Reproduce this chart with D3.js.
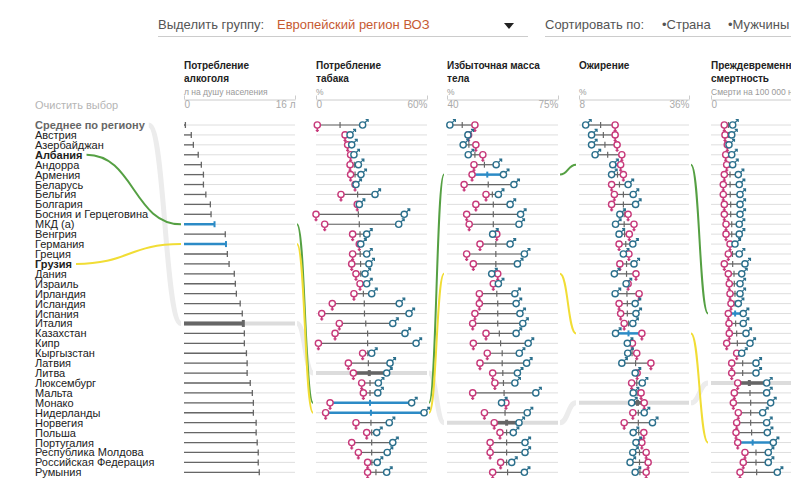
<!DOCTYPE html>
<html><head><meta charset="utf-8">
<script src="https://cdn.jsdelivr.net/npm/d3@7/dist/d3.min.js"></script>
<style>body{margin:0;background:#fff;} svg{display:block;font-family:Arial,"Liberation Sans",sans-serif;}</style>
</head><body><svg id="c" width="791" height="478"></svg>
<script>
// ---------- DATA ----------
const rowLabels = ["Среднее по региону","Австрия","Азербайджан","Албания","Андорра","Армения","Беларусь","Бельгия","Болгария","Босния и Герцеговина","МКД (а)","Венгрия","Германия","Греция","Грузия","Дания","Израиль","Ирландия","Исландия","Испания","Италия","Казахстан","Кипр","Кыргызстан","Латвия","Литва","Люксембург","Мальта","Монако","Нидерланды","Норвегия","Польша","Португалия","Республика Молдова","Российская Федерация","Румыния"];
const boldLabels = ["Албания","Грузия"];

// each indicator column is sorted independently (rank order, top to bottom)
const alcohol = [0.2,1.05,1.35,2.05,2.5,2.8,2.8,3.15,3.8,3.9,4.4,5.95,6.05,6.25,6.5,7.25,7.4,7.55,8.1,8.4,8.55,8.7,8.7,9.0,9.1,9.1,9.55,9.85,10.0,10.0,10.4,10.4,10.55,10.7,10.7,10.85];

const tobaccoF = [0.7,15.7,17.1,18.7,18.4,18.7,21.1,13.5,22.3,0,4.7,19.8,23.4,19.8,19.3,21.6,23.8,20.5,8.8,3.1,12.6,10.3,1.3,25.2,17.5,20.2,24.7,25.6,7.6,5.2,21.6,27.4,19.3,22.9,27.9,27.9];
const tobaccoM = [25.2,18.4,19.3,20.5,22.9,24.3,21.6,31.9,23.4,47.7,44.7,27.4,24.2,27.4,28.6,26.5,27.4,30.1,45,50.3,41.5,48.1,54.1,30.1,40,38.2,33.7,33.4,51.7,58.4,39.6,32.8,41.5,38.5,33.1,38.2];
const tobaccoB = [13.0,17.0,18.2,19.6,20.7,21.1,21.4,22.5,22.8,22.9,23.4,23.8,23.8,23.9,24.1,24.2,24.5,25.6,26.1,26.2,26.9,27.9,27.9,28.0,28.3,28.8,29.2,29.2,29.2,29.7,29.7,30.1,30.1,30.1,30.2,32.4];

const bmiF = [48.8,46.8,49.1,51.3,48.5,47.9,45.4,52.3,49.1,46.2,47.0,55.7,50.4,46.2,48.3,56.0,54.6,50.2,50.2,48.8,48.1,52.3,48.3,52.7,50.4,54.4,55.1,48.1,58.6,51.8,54.9,56.7,53.6,53.6,56.9,54.4];
const bmiM = [40.9,46.6,45.1,46.7,55.5,57.8,61.1,56.2,59.9,63.2,62.7,54.4,59.9,64.4,62.2,54.1,56.2,61.4,61.8,63.0,63.9,61.8,65.6,62.8,65.1,62.2,61.4,68.0,57.2,65.3,62.7,60.9,64.6,64.6,60.4,64.4];
const bmiB = [44.8,46.7,46.9,48.8,51.8,52.7,53.0,54.3,54.6,54.6,54.6,55.0,55.4,55.4,55.4,55.5,55.6,55.7,56.0,56.0,56.0,56.5,56.9,57.4,57.4,57.6,57.8,58.0,58.0,58.3,58.8,58.8,58.8,58.8,58.8,59.1];

const obesityF = [17.2,17.2,17.7,18.9,18.6,19.3,16.3,17.0,16.3,20.5,22.0,20.8,18.2,20.7,18.4,22.5,20.5,23.3,18.2,18.6,19.5,24.0,21.6,22.7,26.3,22.8,21.4,23.8,24.6,21.7,19.5,24.5,24.0,25.1,25.6,25.1];
const obesityM = [9.7,11.2,11.2,12.1,16.6,16.3,20.5,21.8,22.4,18.4,17.3,18.2,21.7,19.3,22.0,17.0,20.0,17.2,22.3,22.5,21.7,17.3,20.3,20.4,18.9,22.3,24.1,21.8,21.4,24.6,26.7,21.8,22.5,21.7,21.0,22.3];
const obesityB = [13.5,14.2,14.6,15.3,17.2,17.8,18.3,19.3,19.3,19.5,19.5,19.6,19.9,20.0,20.1,20.1,20.2,20.2,20.3,20.3,20.6,20.6,21.0,21.5,22.4,22.5,22.7,22.8,22.9,23.1,23.1,23.2,23.3,23.4,23.4,23.5];

const mortalityF = [180,189,220,199,212,180,166,166,180,180,203,203,257,234,180,234,247,257,270,234,243,247,212,347,280,280,361,315,302,369,347,338,361,459,436,392];
const mortalityM = [293,280,243,280,293,369,382,392,392,392,382,382,324,382,459,415,392,392,369,436,436,473,527,415,608,608,752,752,806,698,752,761,842,774,774,896];
const mortalityB = [236,237,240,241,252,257,258,260,266,266,280,280,290,290,293,311,315,324,324,326,333,347,356,380,428,428,518,527,536,536,536,549,563,608,608,617];

// rank (row) of the highlighted entries in each column
const albaniaRanks = [10,28,5,4,19];
const georgiaRanks = [12,29,15,21,32];
const averageRanks = [20,25,30,28,26];

const headers = [["Потребление","алкоголя"],["Потребление","табака"],["Избыточная масса","тела"],["Ожирение"],["Преждевременная","смертность"]];
const units = ["л на душу населения","%","%","%","Смерти на 100 000 населения"];
const domains = [[0,16],[0,60],[40,75],[8,36],[0,1500]];
const tickText = [["0","16 л"],["0","60%"],["40","75%"],["8","36%"],["0","1500"]];

// ---------- DRAW ----------
const svg = d3.select("#c");
const FEM = "#c7397a", MAL = "#2b6f8c", HL = "#2c8bc6", DARK = "#666", ROWLINE = "#dedede";
const GREEN = "#55a043", YELLOW = "#f1dd35", AVGC = "#ececec";

const colX = [[184,295],[316,427],[447,558],[579,689],[711,822]];
const scales = domains.map((d,i)=>d3.scaleLinear().domain(d).range(colX[i]));
const y = d3.scaleLinear().domain([0,35]).range([125,472.3]);

// header controls
svg.append("text").attr("x",158).attr("y",29).attr("font-size",13).attr("fill","#555").text("Выделить группу:");
svg.append("text").attr("x",277).attr("y",29).attr("font-size",13).attr("fill","#c65a32").text("Европейский регион ВОЗ");
svg.append("path").attr("d","M504,23 L514,23 L509,29 Z").attr("fill","#222");
svg.append("line").attr("x1",158).attr("x2",528).attr("y1",36.5).attr("y2",36.5).attr("stroke","#ccc");
svg.append("text").attr("x",545).attr("y",29).attr("font-size",13).attr("fill","#555").text("Сортировать по:");
svg.append("text").attr("x",662).attr("y",29).attr("font-size",13).attr("fill","#555").text("•Страна");
svg.append("text").attr("x",728).attr("y",29).attr("font-size",13).attr("fill","#555").text("•Мужчины");
svg.append("line").attr("x1",545).attr("x2",791).attr("y1",36.5).attr("y2",36.5).attr("stroke","#ccc");

// column headers + axes
headers.forEach((h,i)=>{
  const x0 = colX[i][0];
  h.forEach((t,j)=>svg.append("text").attr("x",x0).attr("y",69+j*13).attr("font-size",10).attr("font-weight","bold").attr("fill","#222").text(t));
  svg.append("text").attr("x",x0).attr("y",95).attr("font-size",8.5).attr("fill","#999").text(units[i]);
  const ax = d3.axisBottom(scales[i]).tickValues(domains[i]).tickSizeInner(-4).tickSizeOuter(0)
    .tickFormat((d,k)=>tickText[i][k]);
  const g = svg.append("g").attr("transform","translate(0,99.5)").call(ax);
  g.select(".domain").attr("stroke","#ccc");
  g.selectAll(".tick line").attr("stroke","#ccc");
  g.selectAll(".tick text").attr("fill","#aaa").attr("font-size",10).attr("font-family","Arial,'Liberation Sans',sans-serif").attr("dy","0.5em")
    .attr("text-anchor",(d,k)=>k===0?"start":"end");
});

// row labels
svg.append("text").attr("x",35).attr("y",109).attr("font-size",11).attr("fill","#b5b5b5").text("Очистить выбор");
const labelNodes = svg.append("g").selectAll("text").data(rowLabels).join("text")
  .attr("x",35).attr("y",(d,i)=>y(i)+4).attr("font-size",11)
  .attr("font-weight",(d,i)=>i===0||boldLabels.includes(d)?"bold":"normal")
  .attr("fill",(d,i)=>i===0?"#666":"#222").text(d=>d);
const labelEnd = {};
labelNodes.each(function(d,i){labelEnd[i]=35+this.getComputedTextLength();});

// connectors
const link = d3.linkHorizontal();
const conn = svg.insert("g",":first-child");
function chain(labelIdx, ranks, color, width){
  const pts = [[[labelEnd[labelIdx]+4, y(labelIdx)],[colX[0][0]-3, y(ranks[0])]]];
  for(let i=0;i<ranks.length-1;i++) pts.push([[colX[i][1]+2, y(ranks[i])],[colX[i+1][0]-3, y(ranks[i+1])]]);
  pts.forEach(p=>conn.append("path").attr("d",link({source:p[0],target:p[1]})).attr("fill","none").attr("stroke",color).attr("stroke-width",width));
}
chain(0, averageRanks, AVGC, 5);
chain(3, albaniaRanks, GREEN, 2);
chain(14, georgiaRanks, YELLOW, 2);

const hlRows = (c)=>[albaniaRanks[c],georgiaRanks[c]];

// column 1 : alcohol bars
{
  const s = scales[0], g = svg.append("g");
  alcohol.forEach((v,r)=>{
    const isAvg = r===averageRanks[0], isHL = hlRows(0).includes(r);
    g.append("line").attr("x1",s(0)).attr("x2",s.range()[1]).attr("y1",y(r)).attr("y2",y(r))
      .attr("stroke",isAvg?"#dcdcdc":ROWLINE).attr("stroke-width",isAvg?4:1);
    const col = isHL?HL:DARK, w = isAvg?4:(isHL?2.5:1.3);
    g.append("line").attr("x1",s(0)).attr("x2",s(v)).attr("y1",y(r)).attr("y2",y(r)).attr("stroke",col).attr("stroke-width",w);
    g.append("line").attr("x1",s(v)).attr("x2",s(v)).attr("y1",y(r)-(isAvg?3.5:3)).attr("y2",y(r)+(isAvg?3.5:3)).attr("stroke",col).attr("stroke-width",isAvg?3:(isHL?2:1.3));
  });
}

function femaleMarker(g,x,yy){
  g.append("line").attr("x1",x).attr("x2",x).attr("y1",yy+3).attr("y2",yy+7).attr("stroke",FEM).attr("stroke-width",1.6);
  g.append("line").attr("x1",x-1.6).attr("x2",x+1.6).attr("y1",yy+5.5).attr("y2",yy+5.5).attr("stroke",FEM).attr("stroke-width",1.2);
  g.append("circle").attr("cx",x).attr("cy",yy).attr("r",3.1).attr("fill","#fff").attr("stroke",FEM).attr("stroke-width",1.4);
}
function maleMarker(g,x,yy){
  g.append("path").attr("d",`M${x+2},${yy-2} L${x+5.3},${yy-5.3} M${x+3},${yy-5.5} L${x+5.5},${yy-5.5} L${x+5.5},${yy-3}`).attr("fill","none").attr("stroke",MAL).attr("stroke-width",1.2);
  g.append("circle").attr("cx",x).attr("cy",yy).attr("r",3.1).attr("fill","#fff").attr("stroke",MAL).attr("stroke-width",1.4);
}

function dumbbellColumn(c, F, M, B){
  const s = scales[c], g = svg.append("g");
  F.forEach((f,r)=>{
    const m = M[r], b = B[r];
    const isAvg = r===averageRanks[c], isHL = hlRows(c).includes(r);
    g.append("line").attr("x1",s.range()[0]).attr("x2",s.range()[1]).attr("y1",y(r)).attr("y2",y(r))
      .attr("stroke",isAvg?"#dcdcdc":ROWLINE).attr("stroke-width",isAvg?4:1);
    const col = isHL?HL:DARK, w = isAvg?3.5:(isHL?2.5:1.2);
    g.append("line").attr("x1",s(Math.min(f,m))).attr("x2",s(Math.max(f,m))).attr("y1",y(r)).attr("y2",y(r)).attr("stroke",col).attr("stroke-width",w);
    g.append("line").attr("x1",s(b)).attr("x2",s(b)).attr("y1",y(r)-3).attr("y2",y(r)+3).attr("stroke",col).attr("stroke-width",isAvg?3:(isHL?2:1.2));
    femaleMarker(g,s(f),y(r));
    maleMarker(g,s(m),y(r));
  });
}
dumbbellColumn(1, tobaccoF, tobaccoM, tobaccoB);
dumbbellColumn(2, bmiF, bmiM, bmiB);
dumbbellColumn(3, obesityF, obesityM, obesityB);
dumbbellColumn(4, mortalityF, mortalityM, mortalityB);
</script></body></html>
